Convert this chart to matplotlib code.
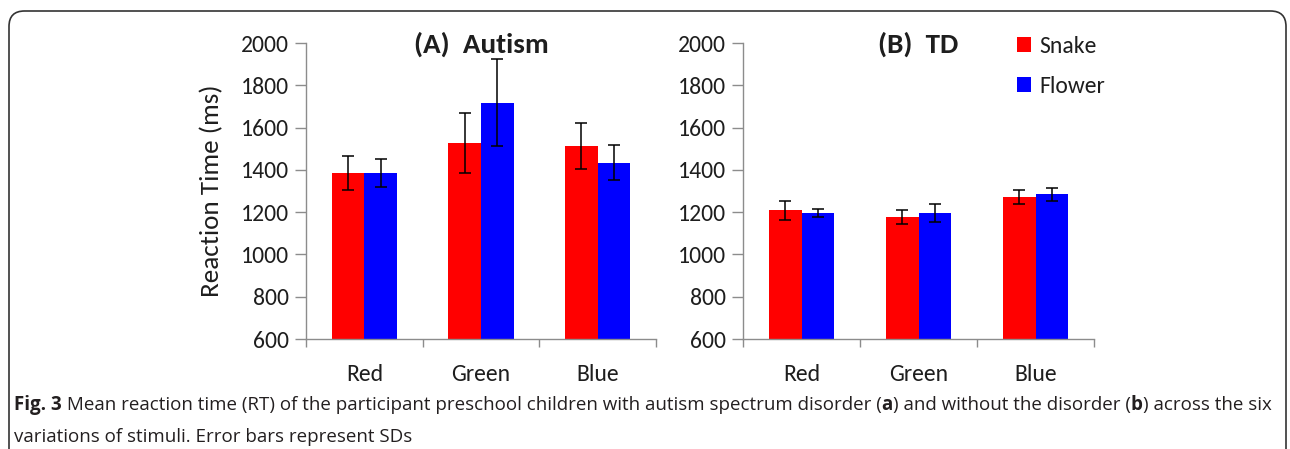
import matplotlib
matplotlib.use("Agg")
import matplotlib.pyplot as plt
from matplotlib.patches import FancyBboxPatch
import numpy as np

categories = ["Red", "Green", "Blue"]
series = ["Snake", "Flower"]
autism_snake = [1384, 1526, 1513]
autism_snake_sd = [80, 143, 108]
autism_flower = [1384, 1718, 1433]
autism_flower_sd = [67, 205, 83]
td_snake = [1209, 1177, 1272]
td_snake_sd = [44, 31, 33]
td_flower = [1196, 1196, 1284]
td_flower_sd = [20, 44, 32]
yticks = [600, 800, 1000, 1200, 1400, 1600, 1800, 2000]
titles = ["(A)  Autism", "(B)  TD"]
ylabel = "Reaction Time (ms)"
caption_line1 = [("Fig. 3", True),
                 (" Mean reaction time (RT) of the participant preschool children with autism spectrum disorder (", False),
                 ("a", True), (") and without the disorder (", False), ("b", True), (") across the six", False)]
caption_line2 = [("variations of stimuli. Error bars represent SDs", False)]

W, H = 1290, 449
fig = plt.figure(figsize=(W / 100, H / 100), dpi=100)
FONT = ["Carlito", "Lato", "DejaVu Sans"]
CAPFONT = ["Open Sans", "DejaVu Sans"]
RED = "#FF0000"
BLUE = "#0000FF"
SPINE = "#8c8c8c"
TXT = "#1e1e1e"

def px_axes(l, r, t, b):
    return fig.add_axes([l / W, 1 - b / H, (r - l) / W, (b - t) / H])

panels = [
    (px_axes(306, 656, 43, 339), autism_snake, autism_snake_sd, autism_flower, autism_flower_sd, titles[0]),
    (px_axes(743, 1094, 43, 339), td_snake, td_snake_sd, td_flower, td_flower_sd, titles[1]),
]
bw = 0.28
x = np.arange(len(categories))
for i, (ax, s, ssd, f, fsd, title) in enumerate(panels):
    ax.bar(x - bw / 2, s, bw, color=RED, label=series[0], zorder=2)
    ax.bar(x + bw / 2, f, bw, color=BLUE, label=series[1], zorder=2)
    ek = dict(fmt="none", ecolor="black", elinewidth=1.1, capsize=4, capthick=1.1, zorder=3)
    ax.errorbar(x - bw / 2, s, yerr=ssd, **ek)
    ax.errorbar(x + bw / 2, f, yerr=fsd, **ek)
    ax.set_xlim(-0.5, 2.5)
    ax.set_ylim(600, 2000)
    ax.set_yticks(yticks)
    ax.set_yticklabels([str(v) for v in yticks], fontsize=17, color=TXT, family=FONT)
    ax.set_xticks([-0.5, 0.5, 1.5, 2.5])
    ax.set_xticklabels([])
    ax.set_xticks(x, minor=True)
    ax.set_xticklabels(categories, minor=True, fontsize=17, color=TXT, family=FONT)
    ax.tick_params(axis="x", which="minor", length=0, pad=18)
    ax.tick_params(axis="x", which="major", length=6, color=SPINE, width=1, direction="out")
    ax.tick_params(axis="y", length=8, color=SPINE, width=1, direction="out", pad=4)
    for sp in ["top", "right"]:
        ax.spines[sp].set_visible(False)
    for sp in ["left", "bottom"]:
        ax.spines[sp].set_color(SPINE)
        ax.spines[sp].set_linewidth(1)
    ax.text(0.5, 0.995, title, transform=ax.transAxes, ha="center", va="center",
            fontsize=21, fontweight="bold", color=TXT, family=FONT)
    if i == 0:
        ax.set_ylabel(ylabel, fontsize=19.5, color=TXT, family=FONT)
        ax.yaxis.set_label_coords(-0.237, 0.5)
    else:
        leg = ax.legend(loc="upper left", bbox_to_anchor=(0.72, 1.095), frameon=False,
                        prop={"family": FONT, "size": 17}, handlelength=0.6, handleheight=0.6,
                        handletextpad=0.35, labelspacing=0.78, labelcolor=TXT)

# border
border = FancyBboxPatch((9 / W, 1 - 470 / H), (1286 - 9) / W, (470 - 11) / H,
                        boxstyle="round,pad=0,rounding_size=0.012", transform=fig.transFigure,
                        fill=False, edgecolor="#333333", linewidth=1.2, clip_on=False,
                        mutation_aspect=W / H)
fig.patches.append(border)

# caption
renderer = fig.canvas.get_renderer()
def draw_line(pieces, x0, yc, size=13.5):
    xpx = x0
    for txt, bold in pieces:
        t = fig.text(xpx / W, 1 - yc / H, txt, fontsize=size, family=CAPFONT,
                     fontweight="bold" if bold else "normal", color="#231f20",
                     ha="left", va="center")
        bb = t.get_window_extent(renderer=renderer)
        xpx += bb.width
draw_line(caption_line1, 14, 405)
draw_line(caption_line2, 14, 437)

fig.savefig("out.png", dpi=100)
